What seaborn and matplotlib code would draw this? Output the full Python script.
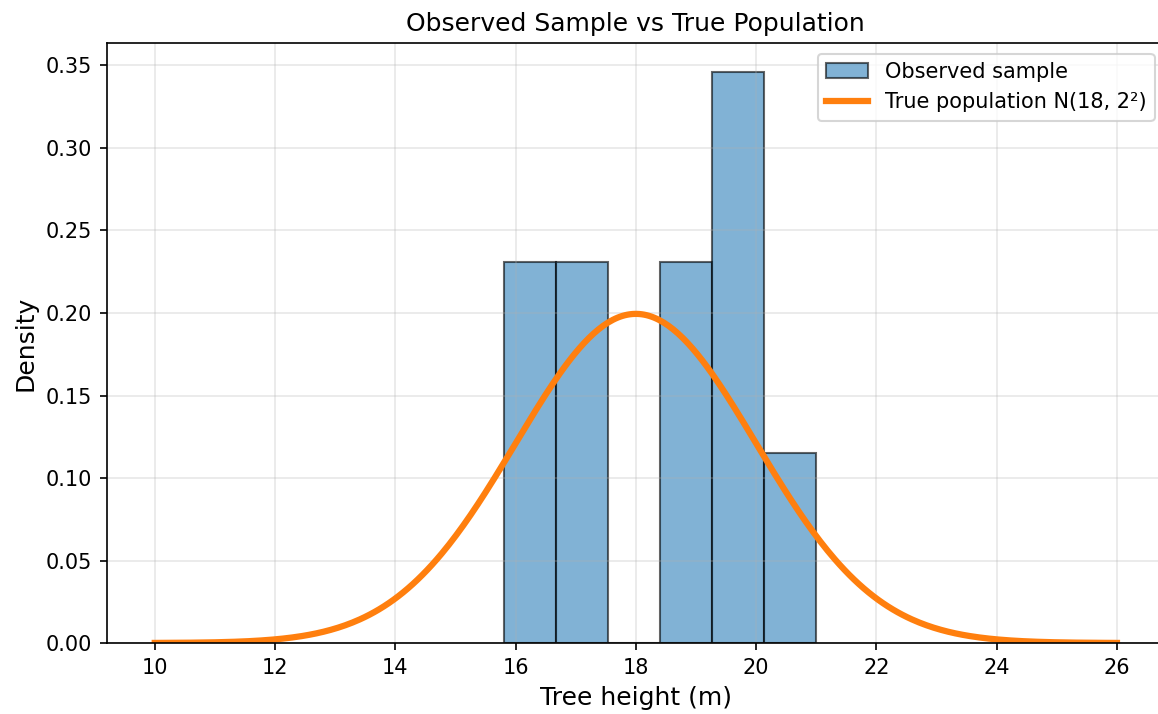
import numpy as np
import seaborn as sns
import matplotlib
matplotlib.use("Agg")
import matplotlib.pyplot as plt

# observed sample of tree heights (m), 10 trees
heights = [15.8, 16.3, 16.9, 17.2, 18.7, 19.1, 19.4, 19.7, 20.0, 21.0]
n_bins = 6

# true population parameters
pop_mean = 18
pop_sd = 2
x_min, x_max = 10, 26

xs = np.linspace(x_min, x_max, 400)
pdf = np.exp(-0.5 * ((xs - pop_mean) / pop_sd) ** 2) / (pop_sd * np.sqrt(2 * np.pi))

fig = plt.figure(figsize=(1158 / 150, 714 / 150), dpi=150)
ax = fig.add_axes([0.0921, 0.0994, 0.914, 0.840])

sns.histplot(x=heights, bins=n_bins, stat="density", color="C0", alpha=0.56,
             edgecolor=(0, 0, 0, 0.6), linewidth=1, label="Observed sample", ax=ax)
sns.lineplot(x=xs, y=pdf, color="C1", linewidth=3,
             label="True population N(18, 2²)", ax=ax)

ax.set_title("Observed Sample vs True Population")
ax.set_xlabel("Tree height (m)", fontsize=12)
ax.set_ylabel("Density", fontsize=12)
ax.set_xticks(range(10, 27, 2))
ax.grid(True, alpha=0.3)

handles, labels = ax.get_legend_handles_labels()
order = [labels.index("Observed sample"), labels.index("True population N(18, 2²)")]
ax.legend([handles[i] for i in order], [labels[i] for i in order], loc="upper right")

fig.savefig("out.png", dpi=150)
